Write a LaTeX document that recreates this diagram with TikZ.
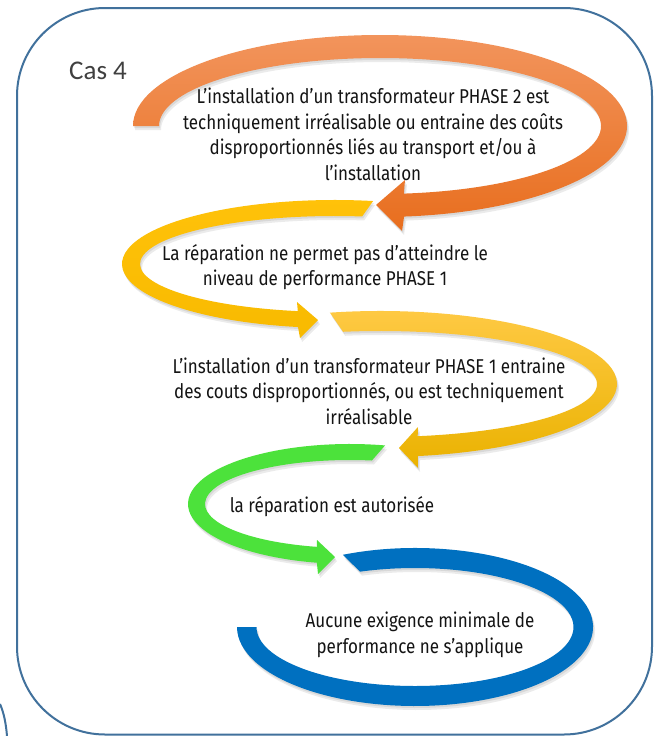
\documentclass[tikz,border=0pt]{standalone}
\usepackage{fontspec}
\setmainfont{Fira Sans}
\newfontfamily\agency[FakeStretch=0.85]{Fira Sans}
\newfontfamily\carlito{Carlito}
\definecolor{bordercol}{RGB}{65,113,156}
\definecolor{orangeA}{RGB}{242,148,92}
\definecolor{orangeB}{RGB}{232,110,30}
\definecolor{yellowA}{RGB}{255,194,10}
\definecolor{yellowB}{RGB}{248,186,0}
\definecolor{goldA}{RGB}{255,202,70}
\definecolor{goldB}{RGB}{234,178,0}
\definecolor{greenA}{RGB}{76,226,59}
\definecolor{blueA}{RGB}{0,112,192}
\definecolor{txtcol}{RGB}{20,20,20}
\definecolor{cascol}{RGB}{64,64,64}
\newcommand\PathOrange{([shift={(380,126)}]180:247 and 91) arc[start angle=180, end angle=444.4, x radius=247, y radius=91]
  -- (402,231) -- (376,205) -- (405,180)
  -- ([shift={(380,126)}]443.8:221 and 68) arc[start angle=443.8, end angle=180, x radius=221, y radius=68] -- cycle}
\newcommand\PathYellow{([shift={(335,264)}]280.3:213 and 64) arc[start angle=280.3, end angle=100, x radius=213, y radius=64]
  -- (300,338) -- (318,320) -- (297,302)
  -- ([shift={(335,264)}]101:195 and 48) arc[start angle=101, end angle=278, x radius=195, y radius=48] -- cycle}
\newcommand\PathGold{([shift={(380,384)}]257.8:237 and 73) arc[start angle=257.8, end angle=440.8, x radius=237, y radius=73]
  -- (418,468) -- (399,448) -- (418,427)
  -- ([shift={(380,384)}]440:217 and 53) arc[start angle=440, end angle=260.2, x radius=217, y radius=53] -- cycle}
\newcommand\PathGreen{([shift={(350,504)}]282.5:162 and 60) arc[start angle=282.5, end angle=101.8, x radius=162, y radius=60]
  -- (318,574) -- (335,557) -- (317,540)
  -- ([shift={(350,504)}]103.2:145 and 44) arc[start angle=103.2, end angle=278.7, x radius=145, y radius=44] -- cycle}
\newcommand\PathBlue{([shift={(415,627)}]246.1:178 and 79) arc[start angle=246.1, end angle=540, x radius=178, y radius=79]
  -- ([shift={(415,627)}]540:158.5 and 59) arc[start angle=540, end angle=249.7, x radius=158.5, y radius=59] -- cycle}
\begin{document}
\begin{tikzpicture}[x=1pt,y=-1pt,
  border/.style={draw=bordercol, line width=2pt},
  shadowA/.style={fill=black, opacity=0.08, shift={(2,4)}},
  shadowB/.style={fill=black, opacity=0.08, shift={(1,2)}},
  txt/.style={font=\agency\fontsize{20}{25.5}\selectfont, text=txtcol, align=center, inner sep=0pt}]
\useasboundingbox (0,0) rectangle (661,736);
\fill[white] (0,0) rectangle (661,736);
% frame
\draw[border, rounded corners=88pt] (17,8) rectangle (652,734.5);
\draw[border] (0,704) .. controls (4,713) and (6,724) .. (7,736);
% shadows
\foreach \p in {\PathOrange,\PathYellow,\PathGold,\PathGreen,\PathBlue}{
  \fill[shadowA] \p;
  \fill[shadowB] \p;
}
% arrows
\shade[top color=orangeA, bottom color=orangeB] \PathOrange;
\shade[top color=yellowA, bottom color=yellowB] \PathYellow;
\shade[top color=goldA, bottom color=goldB] \PathGold;
\fill[greenA] \PathGreen;
\fill[blueA] \PathBlue;
% texts
\node[anchor=west, font=\carlito\fontsize{27}{30}\selectfont, text=cascol, inner sep=0pt] (cas) at (69,71) {Cas 4};
\node[txt] (t1) at (373,134.5) {L’installation d’un transformateur PHASE 2 est\\techniquement irréalisable ou entraine des coûts\\disproportionnés liés au transport et/ou à\\l’installation};
\node[txt] (t2) at (325,267) {La réparation ne permet pas d’atteindre le\\niveau de performance PHASE 1};
\node[txt] (t3) at (369,391) {L’installation d’un transformateur PHASE 1 entraine\\des couts disproportionnés, ou est techniquement\\irréalisable};
\node[txt] (t4) at (332,507) {la réparation est autorisée};
\node[txt] (t5) at (420,635) {Aucune exigence minimale de\\performance ne s’applique};
\end{tikzpicture}
\end{document}
